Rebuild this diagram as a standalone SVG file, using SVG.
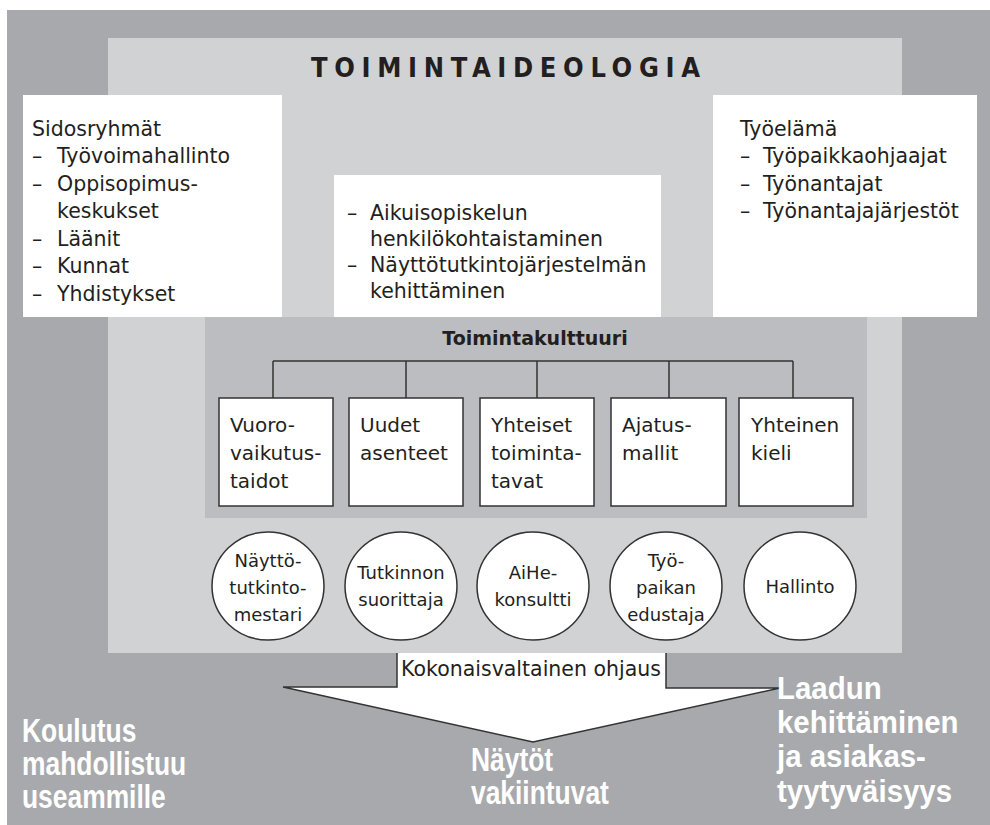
<svg xmlns="http://www.w3.org/2000/svg" width="990" height="825" viewBox="0 0 990 825">
<defs>
<style>
.dark{fill:#a8a9ac}
.light{fill:#d1d2d4}
.panel{fill:#bcbdc0}
.wb{fill:#ffffff}
.box{fill:#ffffff;stroke:#333333;stroke-width:1.5}
.conn{fill:none;stroke:#333333;stroke-width:1.5}
.t{font-family:"DejaVu Sans","Liberation Sans",sans-serif;font-size:20.5px;fill:#231f20}
.bt{font-family:"DejaVu Sans","Liberation Sans",sans-serif;font-size:20px;fill:#231f20}
.ct{font-family:"DejaVu Sans","Liberation Sans",sans-serif;font-size:18px;fill:#231f20;text-anchor:middle}
.title{font-family:"DejaVu Sans Condensed","DejaVu Sans",sans-serif;font-size:27px;font-weight:bold;fill:#231f20}
.sub{font-family:"DejaVu Sans","Liberation Sans",sans-serif;font-size:19px;font-weight:bold;fill:#231f20;text-anchor:middle}
.big{font-family:"Liberation Sans",Arial,sans-serif;font-size:33px;font-weight:bold;fill:#ffffff}
.big2{font-family:"Liberation Sans",Arial,sans-serif;font-size:31px;font-weight:bold;fill:#ffffff}
</style>
</defs>

<rect class="dark" x="7" y="10" width="983" height="815"/>
<rect class="light" x="108" y="38" width="794" height="615"/>

<text class="title" x="311" y="77" textLength="389" lengthAdjust="spacing">TOIMINTAIDEOLOGIA</text>

<g id="sidosryhmat">
<rect class="wb" x="23" y="95" width="259" height="222"/>
<text class="t" x="32" y="135.5">Sidosryhmät</text>
<text class="t" x="32" y="163">–<tspan x="57">Työvoimahallinto</tspan></text>
<text class="t" x="32" y="190.5">–<tspan x="57">Oppisopimus-</tspan></text>
<text class="t" x="57" y="218">keskukset</text>
<text class="t" x="32" y="245.5">–<tspan x="57">Läänit</tspan></text>
<text class="t" x="32" y="273">–<tspan x="57">Kunnat</tspan></text>
<text class="t" x="32" y="300.5">–<tspan x="57">Yhdistykset</tspan></text>
</g>

<g id="tavoitteet">
<rect class="wb" x="334" y="175" width="327" height="142"/>
<text class="t" x="347" y="220">–<tspan x="370">Aikuisopiskelun</tspan></text>
<text class="t" x="370" y="246">henkilökohtaistaminen</text>
<text class="t" x="347" y="272">–<tspan x="370">Näyttötutkintojärjestelmän</tspan></text>
<text class="t" x="370" y="298">kehittäminen</text>
</g>

<g id="tyoelama">
<rect class="wb" x="713" y="95" width="264" height="222"/>
<text class="t" x="740" y="135.5">Työelämä</text>
<text class="t" x="740" y="163">–<tspan x="763">Työpaikkaohjaajat</tspan></text>
<text class="t" x="740" y="190.5">–<tspan x="763">Työnantajat</tspan></text>
<text class="t" x="740" y="218">–<tspan x="763">Työnantajajärjestöt</tspan></text>
</g>

<g id="toimintakulttuuri">
<rect class="panel" x="205" y="317" width="662" height="201"/>
<text class="sub" x="535" y="345">Toimintakulttuuri</text>
</g>

<g id="connectors">
<path class="conn" d="M273 361H793M273 361V398M406 361V398M537 361V398M669 361V398M793 361V398"/>
</g>

<g id="vuorovaikutustaidot">
<rect class="box" x="219" y="398" width="114" height="108"/>
<text class="bt" x="230" y="432">Vuoro-</text>
<text class="bt" x="230" y="460">vaikutus-</text>
<text class="bt" x="230" y="488">taidot</text>
</g>
<g id="uudet-asenteet">
<rect class="box" x="349" y="398" width="114" height="108"/>
<text class="bt" x="360" y="432">Uudet</text>
<text class="bt" x="360" y="460">asenteet</text>
</g>
<g id="yhteiset-toimintatavat">
<rect class="box" x="480" y="398" width="114" height="108"/>
<text class="bt" x="491" y="432">Yhteiset</text>
<text class="bt" x="491" y="460">toiminta-</text>
<text class="bt" x="491" y="488">tavat</text>
</g>
<g id="ajatusmallit">
<rect class="box" x="611" y="398" width="115" height="108"/>
<text class="bt" x="622" y="432">Ajatus-</text>
<text class="bt" x="622" y="460">mallit</text>
</g>
<g id="yhteinen-kieli">
<rect class="box" x="739" y="398" width="114" height="108"/>
<text class="bt" x="751" y="432">Yhteinen</text>
<text class="bt" x="751" y="460">kieli</text>
</g>

<g id="nayttotutkintomestari">
<ellipse class="box" cx="268" cy="586" rx="56" ry="54"/>
<text class="ct" x="268" y="567">Näyttö-</text>
<text class="ct" x="268" y="594">tutkinto-</text>
<text class="ct" x="268" y="621">mestari</text>
</g>
<g id="tutkinnon-suorittaja">
<ellipse class="box" cx="401" cy="586" rx="56" ry="54"/>
<text class="ct" x="401" y="579">Tutkinnon</text>
<text class="ct" x="401" y="606">suorittaja</text>
</g>
<g id="aihe-konsultti">
<ellipse class="box" cx="533" cy="586" rx="56" ry="54"/>
<text class="ct" x="533" y="579">AiHe-</text>
<text class="ct" x="533" y="606">konsultti</text>
</g>
<g id="tyopaikan-edustaja">
<ellipse class="box" cx="666" cy="586" rx="56" ry="54"/>
<text class="ct" x="666" y="567">Työ-</text>
<text class="ct" x="666" y="594">paikan</text>
<text class="ct" x="666" y="621">edustaja</text>
</g>
<g id="hallinto">
<ellipse class="box" cx="800" cy="586" rx="56" ry="54"/>
<text class="ct" x="800" y="593">Hallinto</text>
</g>

<g id="kokonaisvaltainen-ohjaus">
<path d="M397 653V687H283L533 742L780 688H666V653" fill="#ffffff" stroke="#333333" stroke-width="1.5" stroke-linejoin="miter"/>
<text class="t" x="531" y="676" text-anchor="middle">Kokonaisvaltainen ohjaus</text>
</g>

<g id="koulutus" transform="translate(22,0) scale(0.8,1)">
<text class="big" x="0" y="742">Koulutus</text>
<text class="big" x="0" y="775">mahdollistuu</text>
<text class="big" x="0" y="808">useammille</text>
</g>
<g id="naytot" transform="translate(471,0) scale(0.8,1)">
<text class="big" x="0" y="771">Näytöt</text>
<text class="big" x="0" y="804">vakiintuvat</text>
</g>
<g id="laatu" transform="translate(777,0) scale(0.95,1)">
<text class="big2" x="0" y="699">Laadun</text>
<text class="big2" x="0" y="733">kehittäminen</text>
<text class="big2" x="0" y="767">ja asiakas-</text>
<text class="big2" x="0" y="802">tyytyväisyys</text>
</g>
</svg>
